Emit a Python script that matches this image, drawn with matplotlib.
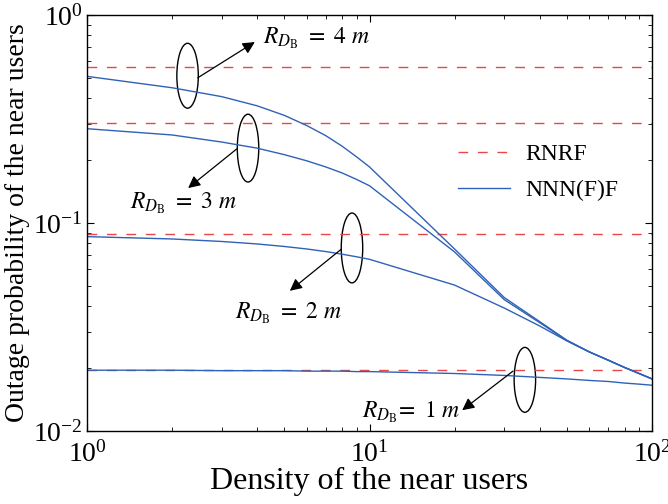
import numpy as np
import matplotlib
matplotlib.use('Agg')
import matplotlib.pyplot as plt
from matplotlib.patches import Ellipse

plt.rcParams['font.family'] = ['Liberation Serif', 'DejaVu Serif']
plt.rcParams['mathtext.fontset'] = 'stix'

# density of the near users
density = [1, 2, 3, 4, 5, 6, 7, 8, 9, 10, 20, 30, 40, 50, 60, 70, 80, 90, 100]

# RNRF (constant) for R_DB = 1, 2, 3, 4 m
rnrf = [0.0196, 0.0886, 0.303, 0.56]

# NNN(F)F curves
nnn_1m = [0.0196, 0.0196, 0.0195, 0.0195, 0.0195, 0.0194, 0.0194, 0.0194, 0.0193, 0.0193,
          0.0189, 0.0185, 0.0181, 0.0178, 0.0175, 0.0173, 0.0170, 0.0168, 0.0166]
nnn_2m = [0.086, 0.0838, 0.0815, 0.0793, 0.0771, 0.0750, 0.0729, 0.0708, 0.0688, 0.0669,
          0.0503, 0.0390, 0.0320, 0.0271, 0.0240, 0.0219, 0.0202, 0.0189, 0.0178]
nnn_3m = [0.284, 0.265, 0.245, 0.229, 0.213, 0.199, 0.186, 0.174, 0.162, 0.151,
          0.0726, 0.0428, 0.0332, 0.0272, 0.0240, 0.0219, 0.0202, 0.0189, 0.0178]
nnn_4m = [0.507, 0.447, 0.405, 0.366, 0.329, 0.294, 0.263, 0.234, 0.208, 0.186,
          0.075, 0.0438, 0.0336, 0.0273, 0.0240, 0.0219, 0.0202, 0.0189, 0.0178]

red = '#e8474a'
blue = '#2f62b6'

fig = plt.figure(figsize=(6.68, 5.04), dpi=100)
ax = fig.add_axes([87/668, 1 - 431/504, 565/668, 416/504])

for i, v in enumerate(rnrf):
    ax.plot([density[0], density[-1]], [v, v], color=red, lw=1.0, dashes=(7, 7),
            label='RNRF' if i == 0 else None)
for i, c in enumerate([nnn_1m, nnn_2m, nnn_3m, nnn_4m]):
    ax.plot(density, c, color=blue, lw=1.0, label='NNN(F)F' if i == 0 else None)

ax.set_xscale('log')
ax.set_yscale('log')
ax.set_xlim(1, 100)
ax.set_ylim(0.01, 1)
ax.tick_params(which='both', direction='in', top=True, right=True, labelsize=20)
ax.tick_params(axis='x', which='major', pad=7)
ax.tick_params(axis='y', which='major', pad=3)
ax.tick_params(which='major', length=5)
ax.tick_params(which='minor', length=3)
ax.set_xlabel('Density of the near users', fontsize=23, labelpad=0)
ax.set_ylabel('Outage probability of the near users', fontsize=20, labelpad=2)
for s in ax.spines.values():
    s.set_linewidth(1.0)

ax.legend(loc='upper left', bbox_to_anchor=(0.619, 0.742), frameon=False, fontsize=17,
          handlelength=2.2, handletextpad=0.65, labelspacing=0.6)

# annotations: ellipse, arrow, label
notes = [
    ((0.178, 0.854), 0.156, (0.196, 0.849), (0.297, 0.935), (0.311, 0.945), '4'),
    ((0.285, 0.680), 0.163, (0.265, 0.678), (0.179, 0.584), (0.076, 0.548), '3'),
    ((0.469, 0.440), 0.168, (0.450, 0.437), (0.359, 0.337), (0.262, 0.284), '2'),
    ((0.775, 0.123), 0.156, (0.754, 0.144), (0.664, 0.050), (0.487, 0.046), '1'),
]
for cen, h, a0, a1, tp, r in notes:
    ax.add_patch(Ellipse(cen, 0.038, h, transform=ax.transAxes, fill=False,
                         ec='black', lw=1.0))
    ax.annotate('', xy=a1, xytext=a0, xycoords='axes fraction',
                arrowprops=dict(arrowstyle='-|>', color='black', lw=0.9,
                                mutation_scale=18, shrinkA=0, shrinkB=0))
    if r == '1':
        txt = r'$R_{D_{\mathrm{B}}}\!=\ 1\ m$'
    else:
        txt = r'$R_{D_{\mathrm{B}}}\ =\ %s\ m$' % r
    ax.text(tp[0], tp[1], txt, transform=ax.transAxes, fontsize=17,
            ha='left', va='center')

fig.savefig('out.png', dpi=100)
